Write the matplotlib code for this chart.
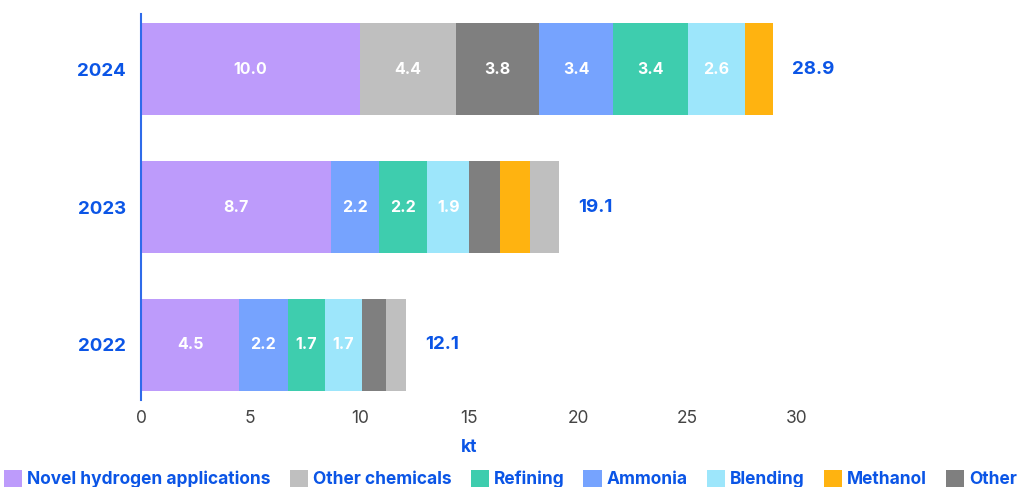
import matplotlib
matplotlib.use("Agg")
import matplotlib.pyplot as plt
from matplotlib.patches import Patch

plt.rcParams['font.family'] = ['Inter', 'DejaVu Sans']

BLUE = '#0b55e6'

years = ['2022', '2023', '2024']
categories = ['Novel hydrogen applications', 'Other chemicals', 'Refining',
              'Ammonia', 'Blending', 'Methanol', 'Other']
colors = ['#bd9bfb', '#bfbfbf', '#3ecdae', '#76a3fe', '#9de6fb', '#ffb310', '#7f7f7f']

# segments of each bar, left to right
order_2022 = ['Novel hydrogen applications', 'Ammonia', 'Refining', 'Blending',
              'Other', 'Other chemicals']
values_2022 = [4.5, 2.2, 1.7, 1.7, 1.1, 0.9]
order_2023 = ['Novel hydrogen applications', 'Ammonia', 'Refining', 'Blending',
              'Other', 'Methanol', 'Other chemicals']
values_2023 = [8.7, 2.2, 2.2, 1.9, 1.4, 1.4, 1.3]
order_2024 = ['Novel hydrogen applications', 'Other chemicals', 'Other', 'Ammonia',
              'Refining', 'Blending', 'Methanol']
values_2024 = [10.0, 4.4, 3.8, 3.4, 3.4, 2.6, 1.3]

orders = [order_2022, order_2023, order_2024]
values = [values_2022, values_2023, values_2024]
color_of = dict(zip(categories, colors))

fig = plt.figure(figsize=(10.21, 4.87), dpi=100)
ax = fig.add_axes([0.1381, 0.1786, 0.6425, 0.7926])

for i, (order, vals) in enumerate(zip(orders, values)):
    left = 0
    for cat, v in zip(order, vals):
        ax.barh(i, v, left=left, height=0.667, color=color_of[cat], linewidth=0)
        if v >= 1.5:
            ax.text(left + v / 2, i, f'{v:.1f}', ha='center', va='center',
                    color='white', fontsize=11.5, fontweight='bold')
        left += v
    ax.annotate(f'{sum(vals):.1f}', (left, i), xytext=(14, 0),
                textcoords='offset points', ha='left', va='center',
                color=BLUE, fontsize=13.5, fontweight='bold')

ax.set_xlim(0, 30)
ax.set_ylim(-0.4, 2.4)
ax.set_xticks(range(0, 31, 5))
ax.set_yticks(range(len(years)))
ax.set_yticklabels(years, color=BLUE, fontweight='bold', fontsize=13.5)
ax.tick_params(axis='x', length=0, labelsize=12.5, labelcolor='#444444', pad=7)
ax.tick_params(axis='y', length=0, pad=11)
for s in ['top', 'right', 'bottom']:
    ax.spines[s].set_visible(False)
ax.spines['left'].set_color('#2f6bea')
ax.spines['left'].set_linewidth(1.5)
ax.set_xlabel('kt', color=BLUE, fontweight='bold', fontsize=12.5, labelpad=9)

handles = [Patch(facecolor=c, edgecolor='none') for c in colors]
leg = fig.legend(handles, categories, loc='lower center', ncol=7,
                 bbox_to_anchor=(0.5, -0.017), frameon=False,
                 handlelength=1.05, handleheight=1.15, handletextpad=0.3,
                 columnspacing=1.08, borderaxespad=0,
                 prop={'weight': 'bold', 'size': 12.5})
for t in leg.get_texts():
    t.set_color(BLUE)

fig.savefig('out.png', dpi=100)
